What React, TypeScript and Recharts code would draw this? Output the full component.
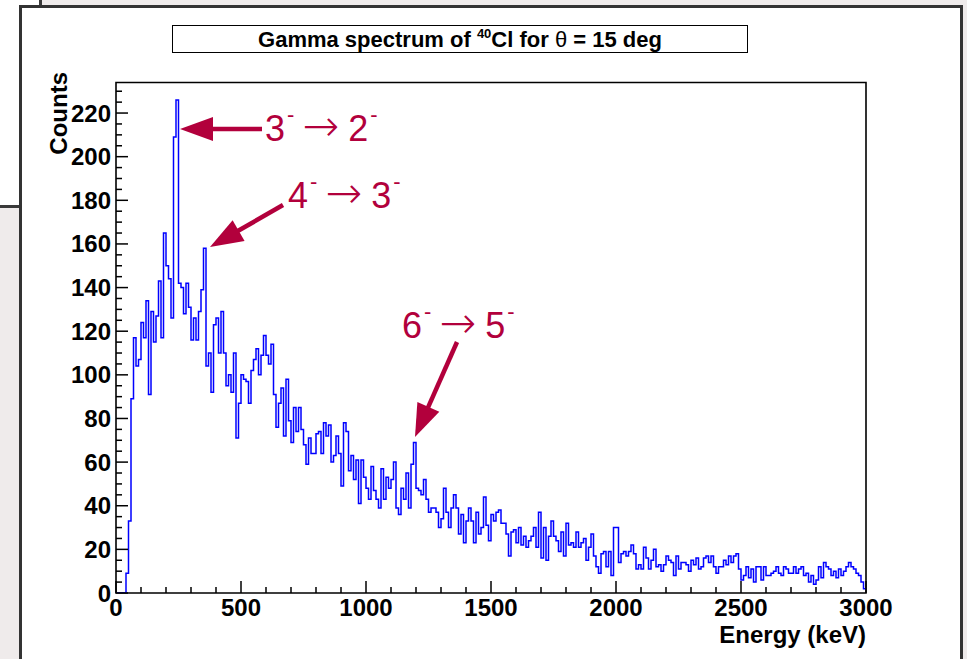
import React from 'react';
import { LineChart, Line, XAxis, YAxis, ReferenceArea } from 'recharts';

// gamma spectrum, 10 keV bins starting at 0 keV
const COUNTS_0_780 = [
  0, 0, 0, 0, 9, 33, 89, 117, 104, 107, 124, 117, 134, 91, 129, 115, 127, 143, 117, 165, 150, 144, 126, 209, 226,
  142, 140, 128, 142, 131, 116, 126, 116, 129, 139, 158, 104, 110, 92, 123, 126, 110, 129, 110, 95, 100, 92, 110,
  71, 87, 100, 98, 97, 87, 102, 107, 112, 100, 109, 118, 109, 105, 114, 91, 76, 87, 94, 72, 98, 79, 69, 85, 74, 85,
  75, 68, 59, 71,
];
const COUNTS_780_1540 = [
  64, 64, 73, 74, 64, 78, 72, 77, 60, 63, 72, 64, 49, 78, 74, 56, 63, 52, 61, 41, 61, 53, 48, 43, 58, 47, 43, 39,
  57, 43, 53, 48, 52, 60, 39, 36, 48, 43, 55, 39, 59, 69, 48, 47, 45, 52, 43, 37, 39, 39, 37, 30, 34, 48, 37, 30,
  39, 45, 39, 27, 36, 23, 33, 39, 33, 23, 37, 27, 30, 44, 31, 24, 36, 33, 37, 38,
];
const COUNTS_1540_2300 = [
  32, 32, 27, 17, 28, 29, 23, 30, 22, 26, 21, 24, 26, 30, 21, 37, 16, 30, 15, 26, 33, 26, 24, 19, 28, 17, 32, 22,
  23, 21, 28, 21, 23, 25, 15, 21, 27, 17, 12, 9, 18, 19, 12, 19, 8, 30, 30, 14, 18, 19, 17, 19, 22, 18, 11, 13, 11,
  21, 16, 11, 15, 20, 12, 13, 10, 13, 17, 15, 14, 8, 17, 11, 14, 14, 13, 10,
];
const COUNTS_2300_3000 = [
  15, 13, 16, 11, 12, 16, 17, 14, 17, 12, 9, 12, 12, 15, 13, 17, 14, 17, 18, 11, 6, 8, 12, 7, 11, 5, 12, 12, 6, 12,
  8, 8, 9, 10, 12, 9, 8, 12, 11, 9, 9, 12, 9, 11, 12, 8, 9, 5, 8, 4, 6, 12, 7, 14, 12, 11, 8, 10, 7, 11, 8, 10, 12,
  14, 12, 11, 9, 8, 5, 2,
];

const BIN_WIDTH = 10;
const X_MAX = 3000;
const Y_MAX = 234;
const X_LABELS = [0, 500, 1000, 1500, 2000, 2500, 3000];
const Y_LABELS = [0, 20, 40, 60, 80, 100, 120, 140, 160, 180, 200, 220];

const counts = [...COUNTS_0_780, ...COUNTS_780_1540, ...COUNTS_1540_2300, ...COUNTS_2300_3000];
const data = counts.map((c, i) => ({ e: i * BIN_WIDTH, c }));
data.push({ e: X_MAX, c: counts[counts.length - 1] });

const xTicks: number[] = [];
for (let v = 0; v <= X_MAX; v += 100) xTicks.push(v);
const yTicks: number[] = [];
for (let v = 0; v <= 230; v += 5) yTicks.push(v);

const FONT = '"Liberation Sans", Arial, Helvetica, sans-serif';
const RED = '#b2003c';

// plot box in page pixels
const PLOT_LEFT = 116;
const PLOT_TOP = 82.5;
const PLOT_RIGHT = 866;
const PLOT_BOTTOM = 593;
const Y_AXIS_W = 50;
const X_AXIS_H = 40;

const XTick = (props: any) => {
  const { x, payload } = props;
  const major = X_LABELS.includes(payload.value);
  const y = PLOT_BOTTOM;
  return (
    <g>
      <line x1={x} x2={x} y1={y} y2={y - (major ? 12 : 6)} stroke="#000" strokeWidth={1.5} />
      {major && (
        <text x={x} y={y + 23} textAnchor="middle" fontSize={24} fontWeight="bold" fontFamily={FONT} fill="#000">
          {payload.value}
        </text>
      )}
    </g>
  );
};

const YTick = (props: any) => {
  const { y, payload } = props;
  const major = Y_LABELS.includes(payload.value);
  const x = PLOT_LEFT;
  return (
    <g>
      <line x1={x} x2={x + (major ? 12 : 6)} y1={y} y2={y} stroke="#000" strokeWidth={1.5} />
      {major && (
        <text x={x - 5} y={y + 8.5} textAnchor="end" fontSize={24} fontWeight="bold" fontFamily={FONT} fill="#000">
          {payload.value}
        </text>
      )}
    </g>
  );
};

// arrow drawn from tail to tip with a filled head
const Arrow: React.FC<{ x1: number; y1: number; x2: number; y2: number }> = ({ x1, y1, x2, y2 }) => {
  const dx = x2 - x1;
  const dy = y2 - y1;
  const len = Math.sqrt(dx * dx + dy * dy);
  const ux = dx / len;
  const uy = dy / len;
  const hl = 33;
  const hw = 12;
  const bx = x2 - ux * hl;
  const by = y2 - uy * hl;
  const pts = `${x2},${y2} ${bx - uy * hw},${by + ux * hw} ${bx + uy * hw},${by - ux * hw}`;
  return (
    <g>
      <line x1={x1} y1={y1} x2={bx + ux * 2} y2={by + uy * 2} stroke={RED} strokeWidth={4.5} />
      <polygon points={pts} fill={RED} />
    </g>
  );
};

const Transition: React.FC<{ x: number; y: number; a: string; b: string }> = ({ x, y, a, b }) => (
  <text x={x} y={y} fontSize={36} fontFamily={FONT} fill={RED}>
    {a}
    <tspan dx={2} dy={-19} fontSize={22}>-</tspan>
    <tspan dy={19} dx={8} fontFamily='"DejaVu Sans", sans-serif' fontSize={44} fontWeight={200}>→</tspan>
    <tspan dx={9}>{b}</tspan>
    <tspan dx={2} dy={-19} fontSize={22}>-</tspan>
  </text>
);

export default function App() {
  return (
    <div style={{ position: 'absolute', left: 0, top: 0, width: 967, height: 659, overflow: 'hidden', background: '#efebeb' }}>
      <div style={{ position: 'absolute', left: -3, top: -3, width: 39, height: 205, background: '#fff', border: '3px solid #3a3a3a' }} />
      <div style={{ position: 'absolute', left: 19, top: 5, width: 938, height: 700, background: '#fff', border: '3px solid #333' }} />
      <div
        style={{
          position: 'absolute', left: 172, top: 25, width: 574, height: 26, border: '1px solid #000', background: '#fff',
          textAlign: 'center', fontFamily: FONT, fontWeight: 'bold', fontSize: 22, lineHeight: '27px', color: '#000',
          whiteSpace: 'nowrap',
        }}
      >
        Gamma spectrum of <sup style={{ fontSize: 13, verticalAlign: 0, position: 'relative', top: -9 }}>40</sup>Cl for{' '}
        <span style={{ fontWeight: 'normal' }}>θ</span> = 15 deg
      </div>
      <div style={{ position: 'absolute', left: 0, top: 0 }}>
        <LineChart
          width={967}
          height={659}
          data={data}
          margin={{ top: PLOT_TOP, right: 967 - PLOT_RIGHT, bottom: 659 - PLOT_BOTTOM - X_AXIS_H, left: PLOT_LEFT - Y_AXIS_W }}
        >
          <XAxis
            type="number"
            dataKey="e"
            domain={[0, X_MAX]}
            ticks={xTicks}
            interval={0}
            axisLine={false}
            tickLine={false}
            tick={<XTick />}
            height={X_AXIS_H}
            allowDataOverflow
          />
          <YAxis
            type="number"
            domain={[0, Y_MAX]}
            ticks={yTicks}
            interval={0}
            axisLine={false}
            tickLine={false}
            tick={<YTick />}
            width={Y_AXIS_W}
            allowDataOverflow
          />
          <ReferenceArea x1={0} x2={X_MAX} y1={0} y2={Y_MAX} fill="none" stroke="#000" strokeWidth={1.6} />
          <Line
            type="stepAfter"
            dataKey="c"
            stroke="#0000ff"
            strokeWidth={1.5}
            dot={false}
            isAnimationActive={false}
          />
        </LineChart>
      </div>
      <svg width={967} height={659} style={{ position: 'absolute', left: 0, top: 0, pointerEvents: 'none' }}>
        <text transform="translate(67,72) rotate(-90)" textAnchor="end" fontSize={24} fontWeight="bold" fontFamily={FONT} fill="#000">
          Counts
        </text>
        <text x={866} y={643} textAnchor="end" fontSize={24} fontWeight="bold" fontFamily={FONT} fill="#000">
          Energy (keV)
        </text>
        <Arrow x1={262} y1={129} x2={180} y2={129} />
        <Arrow x1={283} y1={205} x2={210} y2={247} />
        <Arrow x1={457} y1={342} x2={415} y2={437} />
        <Transition x={265} y={141} a="3" b="2" />
        <Transition x={288} y={208} a="4" b="3" />
        <Transition x={402} y={338} a="6" b="5" />
      </svg>
    </div>
  );
}
